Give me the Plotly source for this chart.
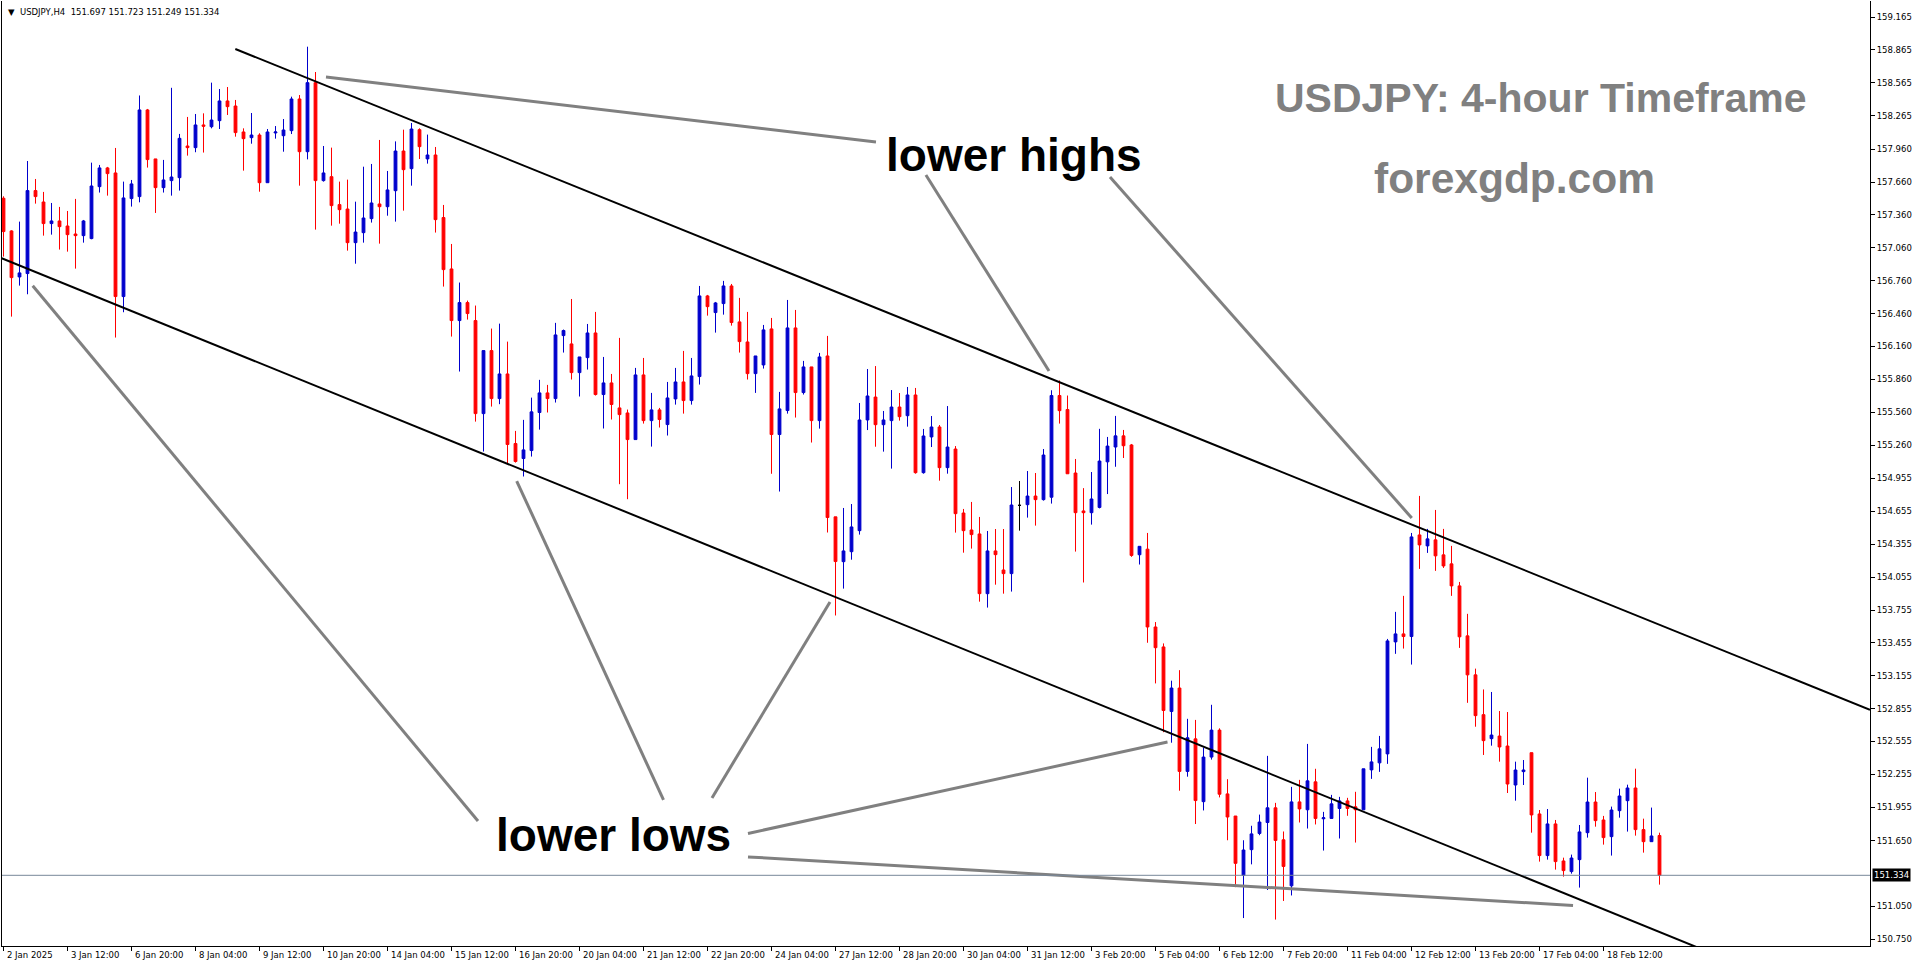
import plotly.graph_objects as go

# ---------------- data ----------------
bars = list(range(208))
opens = [157.512,157.214,156.794,156.825,157.582,157.478,157.281,157.305,157.259,157.186,
 157.171,157.144,157.618,157.789,157.743,156.615,157.509,157.527,158.318,157.871,
 157.609,157.673,157.700,157.989,157.974,158.181,158.165,158.220,158.400,158.354,
 158.117,158.065,158.089,157.654,158.108,158.083,158.129,158.418,157.937,158.567,
 157.673,157.709,157.454,157.414,157.107,157.198,157.326,157.460,157.435,157.581,
 157.943,157.782,158.138,157.871,157.907,157.336,156.867,156.396,156.560,156.396,
 155.547,156.122,155.684,155.909,155.274,155.137,155.210,155.557,155.736,155.684,
 156.259,156.183,155.921,156.058,156.283,155.721,155.827,155.599,155.553,155.310,
 155.900,155.483,155.581,155.447,155.681,155.836,155.666,155.885,156.621,156.469,
 156.551,156.712,156.384,156.201,155.912,155.991,156.320,155.356,155.575,156.329,
 155.739,155.973,155.483,156.073,154.605,154.196,154.287,154.479,155.489,155.698,
 155.446,155.483,155.607,155.528,155.717,155.008,155.334,155.425,155.054,155.224,
 154.640,154.485,154.449,153.904,154.294,154.120,154.087,154.710,154.716,154.795,
 154.762,154.784,155.712,155.584,155.005,154.659,154.643,154.691,155.107,155.242,
 155.344,155.261,154.259,154.310,153.600,153.418,152.829,153.043,152.282,152.579,
 152.006,152.413,152.659,152.077,151.875,151.334,151.568,151.716,151.816,151.950,
 151.658,151.238,152.004,151.932,152.187,151.850,151.853,151.944,152.013,151.959,
 151.932,152.296,152.360,152.442,153.464,153.537,153.513,154.440,154.340,154.395,
 154.258,154.176,153.975,153.519,153.163,152.800,152.581,152.605,152.514,152.158,
 152.280,152.453,151.894,151.514,151.803,151.465,151.368,151.477,151.723,152.003,
 151.839,151.687,151.924,152.015,152.131,151.751,151.641,151.697]
highs = [157.530,157.220,157.299,157.852,157.688,157.570,157.469,157.433,157.396,157.506,
 157.314,157.837,157.816,157.798,157.971,157.664,157.679,158.450,158.327,157.871,
 157.862,158.520,158.099,158.254,158.281,158.287,158.567,158.509,158.527,158.409,
 158.150,158.290,158.105,158.144,158.171,158.235,158.439,158.454,158.895,158.664,
 157.989,157.974,157.664,157.682,157.481,157.800,157.825,158.044,157.761,158.031,
 158.138,158.199,158.150,158.093,157.980,157.451,157.095,156.743,156.578,156.533,
 156.122,156.323,156.368,156.204,155.389,155.490,155.693,155.855,155.809,156.375,
 156.314,156.593,156.064,156.365,156.475,156.064,155.909,156.238,155.584,155.964,
 156.055,155.736,155.599,155.836,155.964,156.119,156.055,156.712,156.630,156.566,
 156.758,156.730,156.603,156.475,156.073,156.356,156.420,155.745,156.584,156.493,
 156.028,155.973,156.101,156.256,154.605,154.686,154.722,155.644,155.954,155.981,
 155.571,155.762,155.735,155.790,155.781,155.407,155.525,155.443,155.616,155.251,
 154.677,154.741,154.604,154.476,154.494,154.494,154.877,154.932,155.023,155.005,
 155.224,155.760,155.850,155.712,155.133,154.867,155.014,155.408,155.334,155.526,
 155.398,155.270,154.336,154.458,153.645,153.450,153.110,153.206,152.762,152.752,
 152.499,152.890,152.675,152.211,151.875,151.654,151.786,151.888,152.424,151.995,
 151.734,152.141,152.205,152.533,152.306,151.913,152.068,152.050,152.041,152.096,
 152.306,152.506,152.606,153.491,153.738,153.884,154.458,154.796,154.495,154.668,
 154.495,154.340,154.011,153.720,153.220,153.030,153.007,152.833,152.824,152.371,
 152.386,152.453,151.930,151.939,151.839,151.495,151.523,151.793,152.225,152.094,
 151.876,151.961,152.125,152.161,152.307,151.851,151.952,151.723]
lows = [156.980,156.432,156.715,156.636,157.463,157.171,157.180,157.044,157.025,156.870,
 157.107,157.138,157.564,157.536,156.241,156.472,157.436,157.475,157.792,157.378,
 157.564,157.536,157.582,157.901,157.932,157.929,158.150,158.144,158.272,158.074,
 157.764,158.010,157.572,157.654,158.056,157.937,158.098,157.627,157.867,157.226,
 157.664,157.262,157.280,157.034,156.915,157.107,157.290,157.098,157.353,157.299,
 157.399,157.627,157.870,157.828,157.199,156.706,156.250,155.931,156.405,155.474,
 155.201,155.611,155.633,155.094,155.100,154.973,155.155,155.401,155.557,155.648,
 156.104,155.858,155.703,155.949,155.712,155.411,155.493,154.903,154.766,155.310,
 155.456,155.246,155.420,155.347,155.629,155.547,155.629,155.812,156.441,156.286,
 156.450,156.350,156.104,155.858,155.736,155.958,154.998,154.836,155.547,155.511,
 155.721,155.283,155.410,154.462,153.705,153.950,154.214,154.443,155.397,155.245,
 155.200,155.045,155.483,155.428,154.999,154.999,155.242,154.935,154.999,154.461,
 154.278,154.315,153.831,153.777,153.986,153.904,153.923,154.479,154.598,154.525,
 154.753,154.726,155.456,154.998,154.288,154.006,154.534,154.682,154.813,155.062,
 155.142,154.240,154.170,153.456,153.085,152.640,152.544,152.106,152.234,151.802,
 151.926,152.390,152.045,151.654,151.226,150.944,151.434,151.700,151.200,150.930,
 151.100,151.150,151.816,151.761,151.798,151.560,151.853,151.670,151.877,151.633,
 151.932,152.214,152.278,152.351,153.355,153.403,153.257,154.130,154.276,154.112,
 154.139,153.884,153.409,152.908,152.690,152.432,152.517,152.371,152.085,152.015,
 152.158,151.723,151.459,151.477,151.386,151.322,151.349,151.222,151.678,151.778,
 151.614,151.514,151.860,151.733,151.696,151.541,151.641,151.249]
closes = [157.208,156.788,156.831,157.582,157.527,157.281,157.305,157.253,157.180,157.171,
 157.305,157.624,157.789,157.737,156.615,157.515,157.643,158.318,157.865,157.609,
 157.679,157.706,158.059,157.974,158.181,158.169,158.226,158.400,158.348,158.111,
 158.056,158.089,157.654,158.117,158.117,158.135,158.418,157.937,158.567,157.673,
 157.743,157.445,157.408,157.107,157.204,157.332,157.469,157.435,157.588,157.943,
 157.773,158.144,157.983,157.907,157.317,156.861,156.396,156.560,156.460,155.547,
 156.122,155.684,155.909,155.265,155.110,155.216,155.563,155.736,155.684,156.265,
 156.305,155.921,156.064,156.283,155.721,155.827,155.630,155.538,155.310,155.900,
 155.483,155.581,155.493,155.690,155.836,155.666,155.891,156.621,156.523,156.557,
 156.712,156.378,156.204,155.912,156.073,156.311,155.356,155.590,156.329,155.739,
 155.973,155.483,156.064,154.599,154.197,154.294,154.513,155.489,155.708,155.446,
 155.489,155.607,155.519,155.717,155.008,155.343,155.425,155.054,155.242,154.634,
 154.479,154.443,153.904,154.294,154.260,154.087,154.713,154.710,154.795,154.762,
 155.169,155.712,155.574,154.998,154.643,154.643,154.768,155.114,155.251,155.344,
 155.254,154.253,154.336,153.600,153.411,152.838,153.043,152.282,152.589,152.016,
 152.413,152.659,152.074,151.866,151.443,151.565,151.712,151.820,151.950,151.652,
 151.415,152.004,151.940,152.196,151.853,151.859,151.986,152.013,151.944,151.932,
 152.306,152.369,152.488,153.473,153.537,153.513,154.422,154.349,154.404,154.249,
 154.157,153.975,153.510,153.163,152.791,152.563,152.614,152.505,152.167,152.295,
 152.295,151.885,151.514,151.803,151.459,151.377,151.492,151.730,152.003,151.833,
 151.678,151.930,152.058,152.131,151.751,151.641,151.693,151.334]
doji_bars = [127]

price_ticks = [159.165,158.865,158.565,158.265,157.960,157.660,157.360,157.060,156.760,156.460,
 156.160,155.860,155.560,155.260,154.955,154.655,154.355,154.055,153.755,153.455,
 153.155,152.855,152.555,152.255,151.955,151.650,151.050,150.750]
time_label_bars = [0,8,16,24,32,40,48,56,64,72,80,88,96,104,112,120,128,136,144,152,160,168,176,184,192,200]
time_labels = ["2 Jan 2025","3 Jan 12:00","6 Jan 20:00","8 Jan 04:00","9 Jan 12:00","10 Jan 20:00",
 "14 Jan 04:00","15 Jan 12:00","16 Jan 20:00","20 Jan 04:00","21 Jan 12:00","22 Jan 20:00",
 "24 Jan 04:00","27 Jan 12:00","28 Jan 20:00","30 Jan 04:00","31 Jan 12:00","3 Feb 20:00",
 "5 Feb 04:00","6 Feb 12:00","7 Feb 20:00","11 Feb 04:00","12 Feb 12:00","13 Feb 20:00",
 "17 Feb 04:00","18 Feb 12:00"]
current_price = 151.334
header_text = "▼  USDJPY,H4  151.697 151.723 151.249 151.334"

# channel lines (bar index, price)
upper_channel_x = [28.98, 233.31]
upper_channel_y = [158.874, 152.844]
lower_channel_x = [-0.44, 220.0]
lower_channel_y = [156.971, 150.431]
# gray pointer lines
pointer_lines = [
    ([40.31, 109.06], [158.618, 158.025]),
    ([115.3, 130.69], [157.724, 155.936]),
    ([138.31, 176.03], [157.706, 154.595]),
    ([59.31, 3.65], [151.830, 156.714]),
    ([82.5, 64.15], [152.022, 154.932]),
    ([88.56, 103.31], [152.040, 153.828]),
    ([93.06, 145.5], [151.716, 152.551]),
    ([93.06, 196.19], [151.502, 151.059]),
]
labels_text = ["lower highs", "lower lows"]
labels_x = [126.3, 76.3]
labels_y = [157.907, 151.702]
title_text = ["USDJPY: 4-hour Timeframe", "forexgdp.com"]
title_x = [192.2, 188.9]
title_y = [158.427, 157.696]
title_size = [41, 42.5]

BLUE = "#0000CD"
RED = "#FF0000"
GRAY = "#808080"
AXFONT = dict(family="DejaVu Sans", size=8.5, color="black")

fig = go.Figure()

# gray pointer lines
for xs, ys in pointer_lines:
    fig.add_trace(go.Scatter(x=xs, y=ys, mode="lines", line=dict(color=GRAY, width=3),
                             hoverinfo="skip", showlegend=False))

# current price line
fig.add_trace(go.Scatter(x=[-1, 240], y=[current_price, current_price], mode="lines",
                         line=dict(color="#778899", width=1), hoverinfo="skip", showlegend=False))

# candles
normal = [i for i in bars if i not in doji_bars]
fig.add_trace(go.Candlestick(
    x=normal, open=[opens[i] for i in normal], high=[highs[i] for i in normal],
    low=[lows[i] for i in normal], close=[closes[i] for i in normal],
    increasing=dict(line=dict(color=BLUE, width=1), fillcolor=BLUE),
    decreasing=dict(line=dict(color=RED, width=1), fillcolor=RED),
    whiskerwidth=0, showlegend=False, hoverinfo="skip"))
fig.add_trace(go.Candlestick(
    x=doji_bars, open=[opens[i] for i in doji_bars], high=[highs[i] for i in doji_bars],
    low=[lows[i] for i in doji_bars], close=[closes[i] for i in doji_bars],
    increasing=dict(line=dict(color="black", width=1), fillcolor="black"),
    decreasing=dict(line=dict(color="black", width=1), fillcolor="black"),
    whiskerwidth=0, showlegend=False, hoverinfo="skip"))

# channel lines
fig.add_trace(go.Scatter(x=upper_channel_x, y=upper_channel_y, mode="lines",
                         line=dict(color="black", width=2), hoverinfo="skip", showlegend=False))
fig.add_trace(go.Scatter(x=lower_channel_x, y=lower_channel_y, mode="lines",
                         line=dict(color="black", width=2), hoverinfo="skip", showlegend=False))

annotations = []
for t, x, y in zip(labels_text, labels_x, labels_y):
    annotations.append(dict(x=x, y=y, xref="x", yref="y", text="<b>%s</b>" % t, showarrow=False,
                            font=dict(family="Liberation Sans", size=46, color="black"),
                            xanchor="center", yanchor="middle"))
for t, x, y, s in zip(title_text, title_x, title_y, title_size):
    annotations.append(dict(x=x, y=y, xref="x", yref="y", text="<b>%s</b>" % t, showarrow=False,
                            font=dict(family="Liberation Sans", size=s, color=GRAY),
                            xanchor="center", yanchor="middle"))
for b, t in zip(time_label_bars, time_labels):
    annotations.append(dict(x=b, y=0, xref="x", yref="paper", text=t, showarrow=False,
                            font=AXFONT, xanchor="left", yanchor="top", xshift=1, yshift=-2))
annotations.append(dict(x=1, y=current_price, xref="paper", yref="y", text="%.3f" % current_price,
                        showarrow=False, font=dict(family="DejaVu Sans", size=8.5, color="white"),
                        bgcolor="black", xanchor="left", yanchor="middle", xshift=2, borderpad=1))
annotations.append(dict(x=0, y=1, xref="paper", yref="paper", text=header_text, showarrow=False,
                        font=AXFONT, xanchor="left", yanchor="top", xshift=4, yshift=-4))

fig.update_layout(
    width=1916, height=964,
    margin=dict(l=2, r=46, t=1, b=18),
    paper_bgcolor="white", plot_bgcolor="white",
    showlegend=False, hovermode=False, boxgap=0.5,
    annotations=annotations,
    xaxis=dict(range=[-0.1875, 233.3125], showgrid=False, zeroline=False,
               showline=True, linecolor="black", linewidth=1,
               rangeslider=dict(visible=False), ticks="outside", ticklen=4,
               tickcolor="black", tickvals=time_label_bars, showticklabels=False),
    yaxis=dict(range=[150.689, 159.312], side="right", showgrid=False, zeroline=False,
               showline=True, linecolor="black", linewidth=1, mirror=True,
               ticks="outside", ticklen=4, tickcolor="black",
               tickvals=price_ticks, ticktext=["%.3f" % v for v in price_ticks],
               tickfont=AXFONT),
)

fig.write_html("out.html", config={"displayModeBar": False},
               post_script="document.body.style.margin='0';document.body.style.overflow='hidden';")
